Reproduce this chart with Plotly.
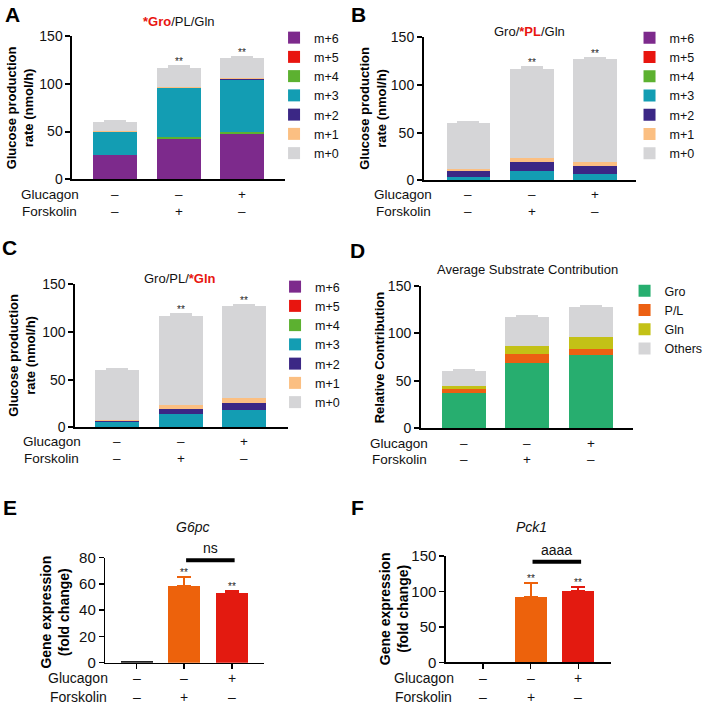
import plotly.graph_objects as go

W, H = 708, 709
FONT = "Liberation Sans, Arial, Helvetica, sans-serif"
RED_TXT = "#E8150F"

# ---------------- data ----------------
CATEGORIES = [0, 1, 2]
GLUCAGON = ["–", "–", "+"]
FORSKOLIN = ["–", "+", "–"]

ISOTOPOLOGUES = ["m+6", "m+5", "m+4", "m+3", "m+2", "m+1", "m+0"]
ISO_COLORS = ["#7D2A8C", "#E8150F", "#5CB130", "#139DB3", "#3B2785", "#FBBF82", "#D5D5D7"]

# panel A: *Gro/PL/Gln
A_M6 = [25.0, 42.0, 47.5]
A_M5 = [0.0, 0.2, 0.2]
A_M4 = [0.5, 2.5, 2.3]
A_M3 = [24.0, 50.5, 54.0]
A_M2 = [0.3, 0.8, 0.5]
A_M1 = [0.5, 0.5, 2.0]
A_M0 = [10.0, 20.5, 20.5]
A_ERR = [1.0, 1.5, 1.2]

# panel B: Gro/*PL/Gln
B_M6 = [0.0, 0.0, 0.0]
B_M5 = [0.0, 0.8, 0.0]
B_M4 = [0.0, 0.0, 0.0]
B_M3 = [3.8, 9.0, 7.0]
B_M2 = [6.0, 9.5, 8.5]
B_M1 = [2.1, 4.5, 3.5]
B_M0 = [48.2, 93.3, 108.5]
B_ERR = [1.0, 1.5, 1.2]

# panel C: Gro/PL/*Gln
C_M6 = [0.5, 0.0, 0.5]
C_M5 = [0.0, 0.0, 0.0]
C_M4 = [0.0, 0.0, 0.0]
C_M3 = [5.0, 14.3, 17.7]
C_M2 = [1.0, 4.9, 7.0]
C_M1 = [0.8, 4.6, 5.2]
C_M0 = [52.7, 93.0, 96.9]
C_ERR = [1.0, 2.0, 1.2]

# panel D: average substrate contribution
SUBSTRATES = ["Gro", "P/L", "Gln", "Others"]
SUB_COLORS = ["#27AE6F", "#EC6012", "#C3C116", "#D5D5D7"]
D_GRO = [37.6, 69.2, 76.9]
D_PL = [4.2, 8.8, 6.7]
D_GLN = [3.2, 9.1, 12.3]
D_OTHERS = [15.0, 29.9, 31.6]
D_ERR = [1.0, 1.5, 1.2]

# panels E/F: gene expression
GENE_COLORS = ["#222222", "#ED620C", "#E31A10"]
E_G6PC = [1.0, 58.4, 53.3]
E_ERR = [0.0, 7.1, 1.5]
F_PCK1 = [1.0, 92.6, 101.0]
F_ERR = [0.0, 18.8, 4.8]
E_BRACKET_LEVEL = 78.0
F_BRACKET_LEVEL = 142.0
E_BRACKET_TEXT = "ns"
F_BRACKET_TEXT = "aaaa"


def xp(p):
    return p / W


def yp(p):
    return 1 - p / H


fig = go.Figure()

stack_panels = [
    ("A", 1, [A_M6, A_M5, A_M4, A_M3, A_M2, A_M1, A_M0], A_ERR, ISOTOPOLOGUES, ISO_COLORS),
    ("B", 2, [B_M6, B_M5, B_M4, B_M3, B_M2, B_M1, B_M0], B_ERR, ISOTOPOLOGUES, ISO_COLORS),
    ("C", 3, [C_M6, C_M5, C_M4, C_M3, C_M2, C_M1, C_M0], C_ERR, ISOTOPOLOGUES, ISO_COLORS),
    ("D", 4, [D_GRO, D_PL, D_GLN, D_OTHERS], D_ERR, SUBSTRATES, SUB_COLORS),
]

totals = {}
for name, n, series, err, labels, colors in stack_panels:
    sfx = "" if n == 1 else str(n)
    for k, (vals, lab, col) in enumerate(zip(series, labels, colors)):
        top = k == len(series) - 1
        fig.add_trace(go.Bar(
            x=CATEGORIES, y=vals, name=lab, width=0.69,
            marker=dict(color=col, line=dict(width=0)),
            xaxis="x" + sfx, yaxis="y" + sfx, legend="legend" + sfx,
            error_y=dict(type="data", array=err, arrayminus=[0, 0, 0], symmetric=False,
                         color=col, thickness=2, width=11, visible=top),
            showlegend=True,
        ))
    totals[name] = [sum(s[i] for s in series) + err[i] for i in range(3)]

for n, vals, err in [(5, E_G6PC, E_ERR), (6, F_PCK1, F_ERR)]:
    for i in CATEGORIES:
        fig.add_trace(go.Bar(
            x=[CATEGORIES[i]], y=[vals[i]], width=0.67, showlegend=False,
            marker=dict(color=GENE_COLORS[i], line=dict(width=0)),
            xaxis="x%d" % n, yaxis="y%d" % n,
            error_y=dict(type="data", array=[err[i]], arrayminus=[0], symmetric=False,
                         color=GENE_COLORS[i], thickness=2, width=7, visible=err[i] > 0),
        ))
    totals["E" if n == 5 else "F"] = [vals[i] + err[i] for i in range(3)]

# ---------------- axes ----------------
axes = [
    # n, x px domain, y px (top, bottom), x range, y range, yticks, xticks
    (1, (73, 287), (36, 179.3), (-0.67, 2.67), (0, 150), [0, 50, 100, 150], False),
    (2, (427, 641), (37.3, 180.3), (-0.70, 2.65), (0, 150), [0, 50, 100, 150], False),
    (3, (76, 290), (284.3, 427.3), (-0.66, 2.69), (0, 150), [0, 50, 100, 150], False),
    (4, (424, 638), (286, 428.3), (-0.67, 2.67), (0, 150), [0, 50, 100, 150], False),
    (5, (106, 266), (557.7, 662.7), (-0.66, 2.68), (0, 80), [0, 20, 40, 60, 80], True),
    (6, (449, 615), (556, 662.3), (-0.78, 2.68), (0, 150), [0, 50, 100, 150], True),
]
lay = {}
for n, xd, yd, xr, yr, yt, xt in axes:
    sfx = "" if n == 1 else str(n)
    lay["xaxis" + sfx] = dict(
        domain=[xp(xd[0]), xp(xd[1])], range=list(xr), anchor="y" + sfx,
        showline=True, linewidth=2 if n < 5 else 1.5, linecolor="black",
        showgrid=False, zeroline=False, showticklabels=False,
        ticks="outside" if xt else "", tickvals=CATEGORIES, ticklen=5, tickwidth=1.5,
        tickcolor="black", fixedrange=True,
    )
    lay["yaxis" + sfx] = dict(
        domain=[yp(yd[1]), yp(yd[0])], range=list(yr), anchor="x" + sfx,
        showline=True, linewidth=2 if n < 5 else 1.5, linecolor="black",
        showgrid=False, zeroline=False, ticks="outside", ticklen=5,
        tickwidth=2 if n < 5 else 1.5, tickcolor="black", tickvals=yt,
        tickfont=dict(size=14 if n < 5 else 15, color="#111"), fixedrange=True,
    )

legend_pos = [("legend", 276, 23), ("legend2", 634, 23), ("legend3", 277, 272), ("legend4", 629, 276)]
for key, lx, ly in legend_pos:
    lay[key] = dict(x=xp(lx), y=yp(ly), xanchor="left", yanchor="top",
                    font=dict(size=12.5, color="#111", family=FONT), traceorder="normal",
                    bgcolor="rgba(0,0,0,0)", tracegroupgap=0)

ann = []


def add_text(text, x, y, size=13, xref="paper", yref="paper", **kw):
    d = dict(text=text, x=x, y=y, xref=xref, yref=yref, showarrow=False,
             xanchor="center", yanchor="middle",
             font=dict(size=size, color=kw.pop("color", "#111"), family=FONT))
    d.update(kw)
    ann.append(d)


# panel letters
for letter, lx, ly in [("A", 13, 15), ("B", 361, 15), ("C", 10, 247), ("D", 360, 250),
                       ("E", 10, 507), ("F", 360, 507)]:
    add_text("<b>%s</b>" % letter, xp(lx), yp(ly), size=21, color="black")

# panel titles
red = lambda s: "<b><span style='color:%s'>%s</span></b>" % (RED_TXT, s)
add_text(red("*Gro") + "/PL/Gln", xp(180), yp(22), size=13)
add_text("Gro/" + red("*PL") + "/Gln", xp(533), yp(31.5), size=13)
add_text("Gro/PL/" + red("*Gln"), xp(181), yp(278), size=13)
add_text("Average Substrate Contribution", xp(531), yp(269.5), size=13)
add_text("<i>G6pc</i>", xp(194), yp(527), size=14)
add_text("<i>Pck1</i>", xp(535), yp(527), size=14)

# y-axis titles
for txt, tx, ty, sz in [("<b>Glucose production<br>rate (nmol/h)</b>", 21, 107.5, 13),
                        ("<b>Glucose production<br>rate (nmol/h)</b>", 376, 108.5, 13),
                        ("<b>Glucose production<br>rate (nmol/h)</b>", 22, 355, 13),
                        ("<b>Relative Contribution</b>", 382, 357, 13),
                        ("<b>Gene expression<br>(fold change)</b>", 55, 612, 14),
                        ("<b>Gene expression<br>(fold change)</b>", 397, 609, 14)]:
    add_text(txt, xp(tx), yp(ty), size=sz, textangle=-90, color="black")

# treatment rows
rows = [(1, 50, 194, 211, 13.5), (2, 406, 194, 211, 13.5), (3, 52, 441, 458, 13.5),
        (4, 402, 443, 459.5, 13.5), (5, 79, 678, 697, 14), (6, 427, 678, 697, 14)]
for n, lx, r1, r2, sz in rows:
    sfx = "" if n == 1 else str(n)
    add_text("Glucagon", xp(lx), yp(r1), size=sz)
    add_text("Forskolin", xp(lx), yp(r2), size=sz)
    for i in CATEGORIES:
        add_text(GLUCAGON[i], i, yp(r1), size=sz, xref="x" + sfx)
        add_text(FORSKOLIN[i], i, yp(r2), size=sz, xref="x" + sfx)

# significance stars
for name, n in [("A", 1), ("B", 2), ("C", 3), ("E", 5), ("F", 6)]:
    sfx = "" if n == 1 else str(n)
    for i in (1, 2):
        add_text("**", i, totals[name][i], size=10, xref="x" + sfx, yref="y" + sfx,
                 yanchor="bottom", yshift=-3, color="#222")

# brackets
shapes = []
for n, lvl, txt in [(5, E_BRACKET_LEVEL, E_BRACKET_TEXT), (6, F_BRACKET_LEVEL, F_BRACKET_TEXT)]:
    shapes.append(dict(type="line", xref="x%d" % n, yref="y%d" % n,
                       x0=CATEGORIES[1] + 0.04, x1=CATEGORIES[2] + 0.06, y0=lvl, y1=lvl,
                       line=dict(color="black", width=4)))
    add_text(txt, (CATEGORIES[1] + CATEGORIES[2]) / 2 + 0.05, lvl, size=14,
             xref="x%d" % n, yref="y%d" % n, yanchor="bottom", yshift=2, color="#111")

fig.update_layout(
    width=W, height=H, margin=dict(l=0, r=0, t=0, b=0),
    template="none", barmode="stack", bargap=0,
    paper_bgcolor="white", plot_bgcolor="white",
    font=dict(family=FONT, size=13, color="#111"),
    annotations=ann, shapes=shapes, **lay,
)

fig.write_html("out.html", config={"displayModeBar": False, "staticPlot": True},
               post_script="document.body.style.margin='0px';document.body.style.overflow='hidden';")
